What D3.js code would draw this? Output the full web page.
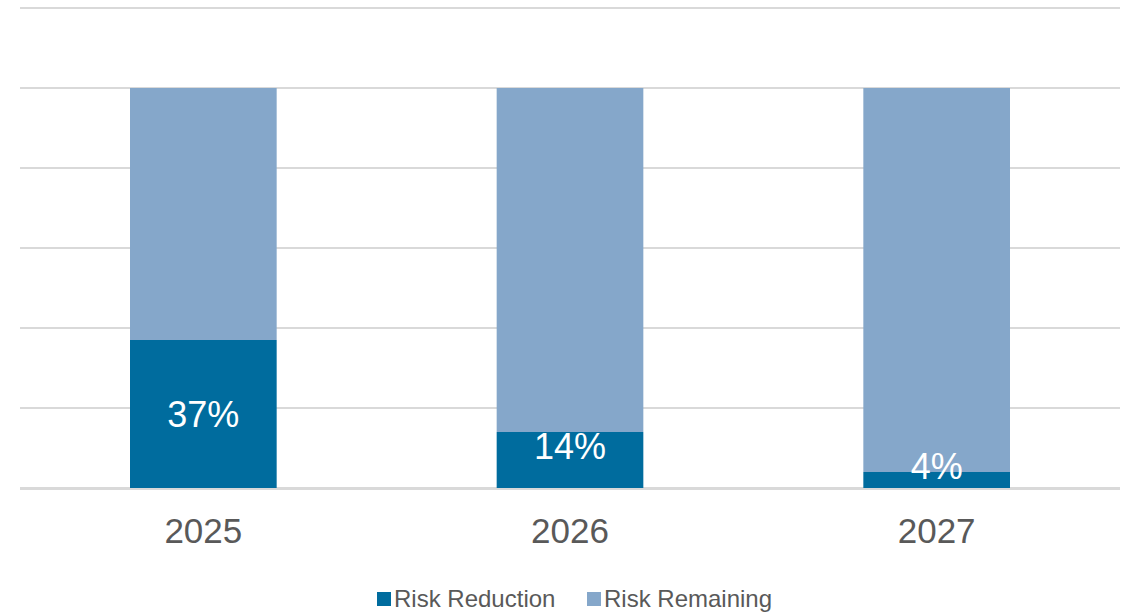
<!DOCTYPE html>
<html>
<head>
<meta charset="utf-8">
<script src="https://cdn.jsdelivr.net/npm/d3@7"></script>
<style>
  body { margin: 0; background: #fff; }
  text { font-family: "Liberation Sans", Arial, sans-serif; }
</style>
</head>
<body>
<div id="chart"></div>
<script>
// chart data
var years = ["2025", "2026", "2027"];
var reduction = [0.37, 0.14, 0.04];
var remaining = [0.63, 0.86, 0.96];
var seriesNames = ["Risk Reduction", "Risk Remaining"];
var seriesColors = ["#006c9e", "#85a7ca"];
var gridTicks = [0, 0.2, 0.4, 0.6, 0.8, 1.0, 1.2];

var w = 1127, h = 612;
var plotLeft = 20, plotRight = 1120, plotTop = 8, plotBottom = 488;

var svg = d3.select("#chart").append("svg")
    .attr("width", w)
    .attr("height", h);

var x = d3.scaleBand()
    .domain(years)
    .range([plotLeft, plotRight])
    .paddingInner(0.6)
    .paddingOuter(0.3);

var y = d3.scaleLinear()
    .domain([0, 1.2])
    .range([plotBottom, plotTop]);

// gridlines
svg.append("g").selectAll("line")
    .data(gridTicks)
    .enter().append("line")
    .attr("x1", plotLeft)
    .attr("x2", plotRight)
    .attr("y1", function(d) { return y(d); })
    .attr("y2", function(d) { return y(d); })
    .attr("stroke", "#d9d9d9")
    .attr("stroke-width", 2);

var rows = years.map(function(yr, i) {
    return { year: yr, reduction: reduction[i], remaining: remaining[i] };
});
var stack = d3.stack().keys(["reduction", "remaining"])(rows);

svg.append("g").selectAll("g")
    .data(stack)
    .enter().append("g")
    .attr("fill", function(d, i) { return seriesColors[i]; })
    .selectAll("rect")
    .data(function(d) { return d; })
    .enter().append("rect")
    .attr("x", function(d) { return x(d.data.year); })
    .attr("width", x.bandwidth())
    .attr("y", function(d) { return y(d[1]); })
    .attr("height", function(d) { return y(d[0]) - y(d[1]); });

// baseline redrawn over bars
svg.append("line")
    .attr("x1", plotLeft).attr("x2", plotRight)
    .attr("y1", y(0) + 1).attr("y2", y(0) + 1)
    .attr("stroke", "#d9d9d9").attr("stroke-width", 2);

// data labels on reduction segment
svg.append("g").selectAll("text")
    .data(stack[0])
    .enter().append("text")
    .attr("x", function(d) { return x(d.data.year) + x.bandwidth() / 2; })
    .attr("y", function(d) {
        var segH = y(d[0]) - y(d[1]);
        var cy = (y(d[0]) + y(d[1])) / 2;
        if (segH < 80) cy -= 14; // small segment, label pushed up
        return cy;
    })
    .attr("dy", "0.36em")
    .attr("text-anchor", "middle")
    .attr("fill", "#fff")
    .style("font-size", "36px")
    .text(function(d) { return Math.round(d.data.reduction * 100) + "%"; });

// x axis labels
svg.append("g").selectAll("text")
    .data(years)
    .enter().append("text")
    .attr("x", function(d) { return x(d) + x.bandwidth() / 2; })
    .attr("y", 543)
    .attr("text-anchor", "middle")
    .attr("fill", "#595959")
    .style("font-size", "35px")
    .text(function(d) { return d; });

// legend
var legend = svg.append("g");
var legX = [377, 587];
seriesNames.forEach(function(name, i) {
    legend.append("rect")
        .attr("x", legX[i])
        .attr("y", 592)
        .attr("width", 14)
        .attr("height", 14)
        .attr("fill", seriesColors[i]);
    legend.append("text")
        .attr("x", legX[i] + 17)
        .attr("y", 607)
        .attr("fill", "#595959")
        .style("font-size", "24px")
        .text(name);
});
</script>
</body>
</html>
